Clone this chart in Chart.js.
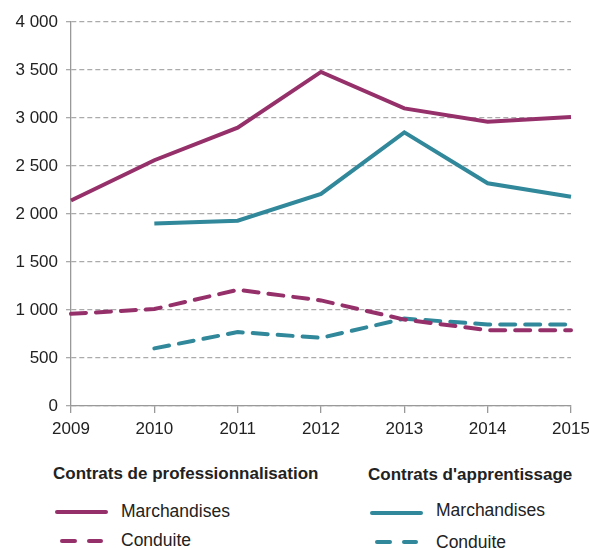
<!DOCTYPE html>
<html>
<head>
<meta charset="utf-8">
<script src="https://cdn.jsdelivr.net/npm/chart.js@4.4.1/dist/chart.umd.min.js"></script>
<style>
  html, body { margin: 0; padding: 0; background: #fff; }
  body { width: 589px; height: 548px; position: relative; overflow: hidden; font-family: 'Liberation Sans', Arial, sans-serif; color: #222; }
  #wrap { position: absolute; left: 0; top: 0; width: 589px; height: 441px; }
  .leg-title { position: absolute; font-family: 'Liberation Sans Narrow', 'Liberation Sans', sans-serif; font-weight: bold; font-size: 17px; line-height: 20px; }
  .leg-text { position: absolute; font-size: 17.5px; line-height: 20px; }
  .swatch { position: absolute; height: 4px; border-radius: 2px; }
</style>
</head>
<body>
<div id="wrap"><canvas id="grafico"></canvas></div>

<div class="leg-title" style="left:53px; top:464px;">Contrats de professionnalisation</div>
<div class="swatch" style="left:55px; top:510px; width:53px; background:#96306a;"></div>
<div class="leg-text" style="left:121px; top:501px;">Marchandises</div>
<div class="swatch" style="left:60px; top:539px; width:17px; background:#96306a;"></div>
<div class="swatch" style="left:87px; top:539px; width:16px; background:#96306a;"></div>
<div class="leg-text" style="left:121px; top:530px;">Conduite</div>

<div class="leg-title" style="left:368px; top:465px;">Contrats d'apprentissage</div>
<div class="swatch" style="left:370px; top:511px; width:53px; background:#30889a;"></div>
<div class="leg-text" style="left:436px; top:500px;">Marchandises</div>
<div class="swatch" style="left:375px; top:540px; width:17px; background:#30889a;"></div>
<div class="swatch" style="left:402px; top:540px; width:16px; background:#30889a;"></div>
<div class="leg-text" style="left:436px; top:532px;">Conduite</div>

<script>
// --- DONNÉES ---
const annees = ['2009', '2010', '2011', '2012', '2013', '2014', '2015'];
const proMarchandises = [2140, 2560, 2900, 3480, 3100, 2960, 3010];
const proConduite = [960, 1010, 1210, 1100, 900, 790, 790];
const apprMarchandises = [null, 1900, 1930, 2210, 2850, 2320, 2180];
const apprConduite = [null, 600, 770, 710, 910, 850, 850];

const VIOLET = '#96306a';
const BLEU = '#30889a';

function formatMilliers(v) {
    return String(v).replace(/\B(?=(\d{3})+(?!\d))/g, ' ');
}

const serie = (data, couleur, pointille) => ({
    data: data,
    borderColor: couleur,
    borderWidth: 4,
    borderDash: pointille ? [15, 10] : [],
    borderCapStyle: pointille ? 'round' : 'butt',
    pointRadius: 0,
    tension: 0,
    fill: false
});

new Chart(document.getElementById('grafico'), {
    type: 'line',
    data: {
        labels: annees,
        datasets: [
            serie(proConduite, VIOLET, true),
            serie(apprConduite, BLEU, true),
            serie(apprMarchandises, BLEU, false),
            serie(proMarchandises, VIOLET, false)
        ]
    },
    options: {
        responsive: true,
        maintainAspectRatio: false,
        animation: false,
        layout: { padding: { top: 22, right: 18, bottom: 0, left: 0 } },
        plugins: { legend: { display: false }, tooltip: { enabled: false } },
        scales: {
            x: {
                offset: false,
                afterFit: (s) => { s.height = 35; s.paddingRight = 0; s.paddingLeft = 0; },
                grid: { display: true, drawOnChartArea: false, drawTicks: true, tickLength: 7, color: '#999', lineWidth: 1.3 },
                border: { display: true, color: '#999', width: 1.3 },
                ticks: { color: '#222', font: { family: 'Liberation Sans', size: 17 }, padding: 6, maxRotation: 0 }
            },
            y: {
                min: 0,
                max: 4000,
                afterFit: (s) => { s.width = 71; },
                grid: { color: '#aaa', lineWidth: 1.3, tickLength: 5 },
                border: { display: true, color: '#999', width: 1.3, dash: [5, 3] },
                ticks: {
                    stepSize: 500,
                    color: '#222',
                    padding: 8,
                    font: { family: 'Liberation Sans', size: 17 },
                    callback: (v) => formatMilliers(v)
                }
            }
        }
    }
});
</script>
</body>
</html>
